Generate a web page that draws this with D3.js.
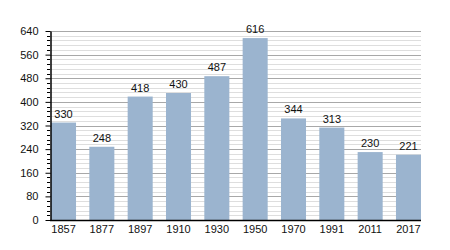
<!DOCTYPE html>
<html>
<head>
<meta charset="utf-8">
<script src="https://cdn.jsdelivr.net/npm/d3@7"></script>
<style>
  body { margin: 0; background: #fff; }
  text { font-family: "Liberation Sans", Arial, sans-serif; }
</style>
</head>
<body>
<div id="chart"></div>
<script>
const years = ["1857", "1877", "1897", "1910", "1930", "1950", "1970", "1991", "2011", "2017"];
const population = [330, 248, 418, 430, 487, 616, 344, 313, 230, 221];
const yTicks = [0, 80, 160, 240, 320, 400, 480, 560, 640];

const width = 450, height = 250;
const margin = { left: 50, right: 421, top: 31, bottom: 220 };

const svg = d3.select("#chart").append("svg")
    .attr("width", width)
    .attr("height", height);

const x = d3.scaleBand()
    .domain(years)
    .range([margin.left + 1, margin.right])
    .paddingInner(0.347)
    .paddingOuter(0);

const y = d3.scaleLinear()
    .domain([0, 640])
    .range([margin.bottom, margin.top]);

const minor = d3.range(0, 641, 16).filter(v => v % 80 !== 0);

// grille mineure
svg.append("g").selectAll("line")
    .data(minor)
    .enter().append("line")
    .attr("x1", margin.left).attr("x2", margin.right)
    .attr("y1", d => Math.round(y(d)) + 0.5).attr("y2", d => Math.round(y(d)) + 0.5)
    .attr("stroke", "#dedede");

// grille majeure
svg.append("g").selectAll("line")
    .data(yTicks.slice(1))
    .enter().append("line")
    .attr("x1", margin.left).attr("x2", margin.right)
    .attr("y1", d => Math.round(y(d)) + 0.5).attr("y2", d => Math.round(y(d)) + 0.5)
    .attr("stroke", "#a8a8a8");

// barres
svg.append("g").selectAll("rect")
    .data(population)
    .enter().append("rect")
    .attr("x", (d, i) => x(years[i]))
    .attr("y", d => y(d))
    .attr("width", x.bandwidth())
    .attr("height", d => margin.bottom - y(d))
    .attr("fill", "#9bb4cf");

// valeurs
svg.append("g").selectAll("text")
    .data(population)
    .enter().append("text")
    .attr("x", (d, i) => x(years[i]) + x.bandwidth() / 2)
    .attr("y", d => y(d) - 5)
    .attr("text-anchor", "middle")
    .attr("font-size", "11px")
    .attr("fill", "#111")
    .text(d => d);

// petits traits de l'axe
svg.append("g").selectAll("line")
    .data(minor)
    .enter().append("line")
    .attr("x1", margin.left - 3).attr("x2", margin.left)
    .attr("y1", d => Math.round(y(d)) + 0.5).attr("y2", d => Math.round(y(d)) + 0.5)
    .attr("stroke", "#000");

// axe Y
const yAxis = svg.append("g")
    .attr("transform", `translate(${margin.left + 0.5},0)`)
    .call(d3.axisLeft(y).tickValues(yTicks).tickSize(5).tickPadding(7).tickSizeOuter(0));
yAxis.select(".domain").attr("stroke", "#000").attr("stroke-width", 1.5);
yAxis.selectAll("text").attr("font-size", "11px").attr("fill", "#111")
    .style("font-family", "'Liberation Sans', Arial, sans-serif");

// axe X
const xAxis = svg.append("g")
    .attr("transform", `translate(0,${margin.bottom + 0.5})`)
    .call(d3.axisBottom(x).tickSize(0).tickPadding(5));
xAxis.select(".domain").attr("d", `M${margin.left},0H${margin.right}`).attr("stroke", "#000").attr("stroke-width", 1.5);
xAxis.selectAll("text").attr("font-size", "11px").attr("fill", "#111")
    .style("font-family", "'Liberation Sans', Arial, sans-serif");
</script>
</body>
</html>
